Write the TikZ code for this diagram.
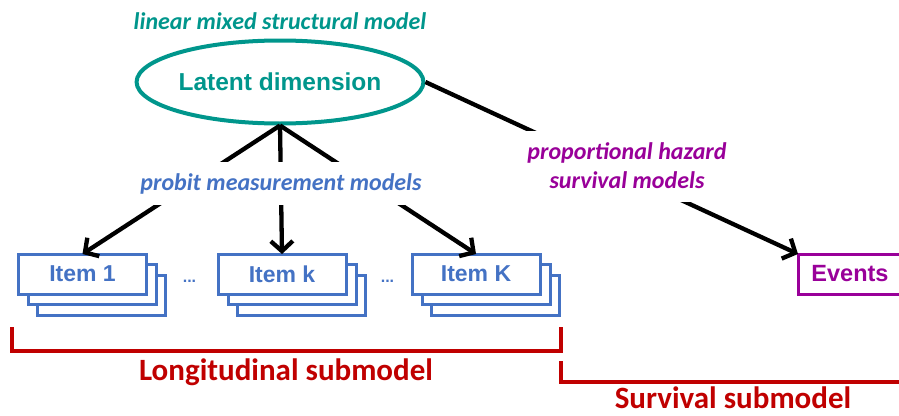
\documentclass[tikz,border=0pt]{standalone}
\usepackage{fontspec}
\setmainfont{Carlito}
\newfontfamily\arialf{Liberation Sans}
\usetikzlibrary{arrows.meta,shapes.geometric}
\definecolor{tealc}{RGB}{0,150,140}
\definecolor{bluec}{RGB}{68,114,196}
\definecolor{purc}{RGB}{153,0,153}
\definecolor{redc}{RGB}{192,0,0}
\begin{document}
\begin{tikzpicture}[x=1pt,y=-1pt,
  itembox/.style={draw=bluec, line width=3pt, fill=white, minimum width=128pt,
    minimum height=40pt, inner sep=0pt, outer sep=0pt,
    font=\arialf\bfseries\fontsize{23}{26}\selectfont, text=bluec},
  conn/.style={line width=4.3pt, black},
  arr/.style={conn, -{Straight Barb[length=10pt,width=22pt]}},
  lbl/.style={font=\bfseries\itshape\fontsize{24}{29}\selectfont},
  brk/.style={draw=redc, line width=3.5pt},
  sub/.style={font=\bfseries\fontsize{31}{34}\selectfont, text=redc, anchor=base, inner sep=0pt},
  dots/.style={font=\arialf\bfseries\fontsize{16}{18}\selectfont, text=bluec, anchor=base, inner sep=0pt}
]
\useasboundingbox (0,0) rectangle (899,415);
\clip (0,0) rectangle (899,415);

% title
\node[lbl, text=tealc, anchor=base, inner sep=0pt] (title) at (280,29) {linear mixed structural model};

% latent ellipse
\node[ellipse, draw=tealc, line width=4pt, minimum width=270pt, minimum height=83pt,
  inner sep=0pt, text=tealc, font=\arialf\bfseries\fontsize{24.5}{28}\selectfont] (lat) at (280,82) {Latent dimension};

% item stacks
\foreach \n/\x in {a/82.5, b/282, c/476}{
  \node[itembox] (\n3) at (\x+19,295) {};
  \node[itembox] (\n2) at (\x+10,284.5) {};
}
\node[itembox] (i1) at (82.5,274) {Item 1};
\node[itembox] (ik) at (282,274) {Item k};
\node[itembox] (iK) at (476,274) {Item K};

\node[dots] (d1) at (189.5,282) {...};
\node[dots] (d2) at (387.5,282) {...};

% events
\node[draw=purc, line width=3pt, minimum width=104pt, minimum height=40pt, inner sep=0pt,
  outer sep=0pt, text=purc, font=\arialf\bfseries\fontsize{23.5}{26}\selectfont] (ev) at (850,274) {Events};

% connectors
\draw[arr] (lat.south) -- (i1.north);
\draw[arr] (lat.south) -- (ik.north);
\draw[arr] (lat.south) -- (iK.north);
\draw[arr] (lat.east) -- (ev.north west);

% labels covering the connectors
\node[lbl, text=bluec, fill=white, anchor=base, inner xsep=2pt, inner ysep=0pt,
  text height=28pt, text depth=15pt] (probit) at (281,190) {probit measurement models};
\node[lbl, text=purc, fill=white, align=center, minimum height=71pt, inner xsep=2pt, inner ysep=0pt]
  (haz) at (627,166) {proportional hazard\\survival models};

% brackets
\coordinate (l1) at (12,327);
\coordinate (l2) at (561,327);
\draw[brk] (l1) -- (12,351) -- (561,351) -- (l2);
\coordinate (s1) at (561,361);
\draw[brk] (s1) -- (561,382) -- (910,382);

\node[sub] (lon) at (286,380) {Longitudinal submodel};
\node[sub] (sur) at (733,408) {Survival submodel};
\end{tikzpicture}
\end{document}
